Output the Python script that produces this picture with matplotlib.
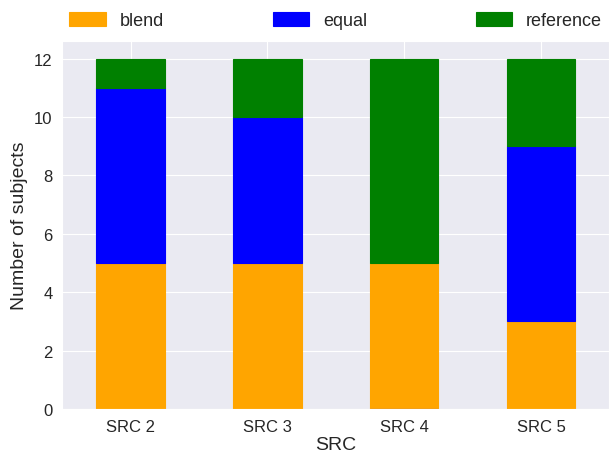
import matplotlib
matplotlib.use("Agg")
import matplotlib.pyplot as plt
import pandas as pd
import seaborn as sns

sources = ["SRC 2", "SRC 3", "SRC 4", "SRC 5"]
blend = [5, 5, 5, 3]
equal = [6, 5, 0, 6]
reference = [1, 2, 7, 3]

sns.set_style("darkgrid")
plt.rcParams["font.family"] = ["Liberation Sans", "DejaVu Sans"]

df = pd.DataFrame({"blend": blend, "equal": equal, "reference": reference},
                  index=pd.Index(sources, name="SRC"))

fig, ax = plt.subplots(figsize=(6.1, 4.52), dpi=100)
df.plot.bar(stacked=True, ax=ax, color=["orange", "blue", "green"], rot=0)
# no white outlines; a zero-height bar still shows as a thin line
for p in ax.patches:
    p.set_edgecolor(p.get_facecolor())
    p.set_linewidth(0.8)

ax.set_ylabel("Number of subjects", fontsize=14)
ax.set_xlabel("SRC", fontsize=14, labelpad=1.5)
ax.tick_params(labelsize=12)
ax.legend(loc="lower left", bbox_to_anchor=(0, 1.012, 1, 0.1), mode="expand",
          ncol=3, frameon=False, fontsize=13, handlelength=2.0, handleheight=0.85,
          borderaxespad=0)

fig.subplots_adjust(left=0.102, right=0.999, top=0.907, bottom=0.093)
fig.savefig("out.png", dpi=100)
